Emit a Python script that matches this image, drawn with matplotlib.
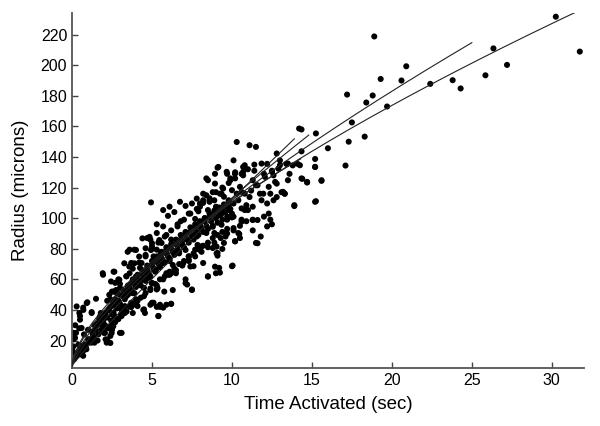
import matplotlib
matplotlib.use("Agg")
import matplotlib.pyplot as plt
import numpy as np

# ---- scatter data: (time s, radius microns) ----
time_s = [
    # sparse high region
    30.25, 31.75, 18.9, 26.35, 27.2, 25.85, 23.8, 24.3, 22.4, 20.9, 20.6, 19.3, 18.8, 18.4,
    17.2, 19.7, 17.5, 17.3, 18.3, 17.1, 16.0, 15.25, 14.35, 14.35, 15.2, 15.2, 14.4, 14.7,
    15.6, 15.25, 14.2,
    # upper-mid region (x 5-14, y > 103)
    4.94, 5.7, 6.1, 6.75, 7.1, 7.5, 7.8, 8.0, 8.2, 8.4, 8.5, 8.6, 8.8, 8.9, 9.1, 9.25, 9.5,
    9.7, 9.8, 9.9, 10.1, 10.3, 10.2, 10.1, 10.4, 10.5, 10.7, 10.8, 10.9, 11.0, 11.1, 11.2,
    11.4, 11.5, 11.6, 11.75, 11.85, 12.0, 12.2, 12.3, 12.5, 12.6, 12.7, 12.8, 12.9, 13.0,
    13.1, 13.3, 13.4, 13.6, 13.8, 13.9, 14.1,
    9.15, 8.94, 9.67, 10.19, 10.7, 10.8, 11.85, 12.5, 13.0, 13.5, 14.25, 15.2, 8.4, 8.94,
    9.9, 10.7, 11.3, 12.06, 12.6, 12.8, 13.5, 14.35, 14.7, 15.6, 8.2, 9.45, 10.0, 10.6,
    11.5, 12.4, 13.2, 8.6, 9.35, 10.3, 11.1, 11.96, 12.8, 13.3, 8.0, 8.5, 9.0, 9.8, 10.6,
    11.3, 12.2, 13.9, 15.2, 8.3, 9.25, 10.1, 10.8, 11.6, 12.3, 8.0, 8.8, 10.6, 11.3, 12.0,
    6.4, 7.3, 7.7, 5.3, 6.0, 6.8, 7.9, 9.4, 10.0,
    # lower-right scattered
    8.5, 8.94, 9.25, 10.04, 9.04, 9.04, 9.1, 9.4, 10.19, 10.46, 11.6, 11.3, 12.5, 11.8,
    # mid region
    1.94, 1.75, 1.96, 2.17, 2.06, 2.1, 2.17, 2.4, 2.5, 2.6, 2.7, 2.8, 2.4, 2.5, 2.7, 2.9,
    2.6, 2.8, 3.0, 3.1, 3.2, 3.3, 3.4, 3.4, 3.5, 3.6, 3.7, 3.6, 3.9, 3.8, 3.9, 4.0, 3.7,
    3.8, 4.1, 4.1, 4.25, 4.35, 4.5, 4.5, 4.6, 4.6, 4.7, 4.9, 4.8, 5.0, 5.0, 5.1, 5.1, 5.3,
    5.3, 5.3, 5.0, 5.1, 5.3, 5.5, 5.7, 5.4, 6.2, 5.5, 5.6, 5.7, 5.9, 6.0, 6.1, 6.2, 6.3,
    6.4, 6.5, 6.6, 6.85, 6.96, 7.1, 7.2, 7.3, 7.5, 7.6, 7.7, 7.8, 8.0, 8.1, 8.2, 8.4, 8.5,
    8.8, 8.9, 9.1, 9.2, 9.0, 9.35, 9.5, 9.6, 9.7, 10.0, 10.1, 10.2, 10.4, 10.6, 10.5, 11.3,
    11.5, 12.2, 12.4,
    1.92, 2.44, 2.65, 2.96, 3.48, 4.0, 3.27, 3.58, 3.9, 4.2, 4.4, 4.6, 4.85, 4.94, 5.0,
    5.15, 5.25, 5.46, 5.56, 5.66, 5.9, 5.9, 6.08, 6.3, 6.2, 6.5, 6.7, 6.9, 7.1, 7.3, 7.4,
    7.1, 7.5, 7.65, 7.85, 8.0, 4.85, 5.0, 5.35, 5.77, 5.9, 4.4, 4.0, 3.7, 3.4, 3.8, 2.75,
    2.33,
    # near origin
    0.04, 0.1, 0.25, 0.1, 0.46, 0.5, 0.7, 0.96, 1.23, 1.5, 0.3, 0.6, 0.8, 1.0, 1.1, 1.2,
    1.4, 0.7, 0.9, 0.5, 0.7,
    0.08, 0.19, 0.08, 0.29, 0.71, 0.92, 1.23, 0.5, 0.6, 0.04, 0.4, 2.48, 2.58, 3.0, 2.4,
    2.2, 1.96, 1.75, 3.1, 3.4, 3.6, 4.0, 4.46, 4.9, 5.4, 5.5, 5.9, 6.2, 4.56,
    0.15, 0.35, 0.55, 0.85, 1.05, 1.35, 1.65, 1.85, 2.05, 2.25, 2.45, 2.65, 2.85, 3.05,
    0.2, 0.45, 0.75, 1.0, 1.3, 1.55, 1.8, 2.3, 2.55, 2.9, 3.2, 3.45,
    # dense core along the fit lines
    1.3, 1.5, 1.6, 1.8, 1.9, 2.0, 2.2, 2.3, 2.5, 2.6, 2.8, 2.9, 3.0, 3.1, 3.2, 3.3, 3.4,
    3.5, 3.6, 3.7, 3.8, 3.9, 4.0, 4.1, 4.2, 4.3, 4.4, 4.5, 4.6, 4.7, 4.8, 4.9, 5.0, 5.1,
    5.2, 5.3, 5.4, 5.5, 5.6, 5.7, 5.8, 5.9, 6.0, 6.1, 6.2, 6.3, 6.4, 6.5, 6.6, 6.7, 6.8,
    6.9, 7.0, 7.1, 7.2, 7.3, 7.4, 7.5, 7.6, 7.7, 7.8, 7.9, 8.0, 8.1, 8.2, 8.3, 8.4, 8.5,
    8.6, 8.7, 8.8, 8.9, 9.0, 9.1, 9.2, 9.3, 9.4, 9.5, 9.6, 9.7, 9.8, 9.9, 10.0,
    1.4, 1.7, 2.1, 2.4, 2.7, 3.0, 3.2, 3.5, 3.8, 4.1, 4.4, 4.7, 5.0, 5.3, 5.6, 5.9, 6.2,
    6.5, 6.8, 7.1, 7.4, 7.7, 8.0, 8.3, 8.6, 8.9, 9.2, 9.5, 9.8,
    1.6, 2.0, 2.3, 2.7, 3.1, 3.4, 3.7, 4.0, 4.3, 4.6, 4.9, 5.2, 5.5, 5.8, 6.1, 6.4, 6.7,
    7.0, 7.3, 7.6, 7.9, 8.2, 8.5, 8.8, 9.1, 9.4, 9.7,
    2.2, 2.6, 3.0, 3.4, 3.8, 4.2, 4.6, 5.0, 5.4, 5.8, 6.2, 6.6, 7.0, 7.4, 7.8, 8.2, 8.6,
    9.0, 9.4, 9.8, 10.2, 10.6, 11.0, 11.4,
    2.5, 2.9, 3.3, 3.7, 4.1, 4.5, 4.9, 5.3, 5.7, 6.1, 6.5, 6.9, 7.3, 7.7, 8.1, 8.5, 8.9,
    9.3, 9.7, 10.1, 10.5, 10.9,
]
radius_um = [
    231.7, 208.9, 218.8, 211.0, 200.2, 193.4, 190.2, 184.8, 187.8, 199.3, 190.0, 191.0, 180.2, 175.6,
    180.8, 173.0, 162.6, 150.0, 153.3, 134.4, 145.7, 155.4, 158.0, 143.7, 138.7, 133.5, 125.7, 123.3,
    124.4, 111.1, 158.6,
    110.3, 105.3, 107.5, 110.7, 108.0, 109.6, 112.8, 109.6, 111.7, 115.0, 124.8, 110.7, 117.0, 111.7, 133.0, 116.0, 114.0,
    129.0, 111.7, 124.8, 137.8, 149.8, 130.0, 109.6, 111.7, 120.5, 133.5, 116.0, 108.5, 105.3, 147.7, 118.0,
    131.0, 146.6, 121.5, 116.0, 111.7, 129.0, 135.5, 120.5, 131.0, 111.7, 123.7, 142.3, 132.4, 137.8,
    117.0, 116.0, 135.5, 129.0, 134.5, 108.5, 135.5,
    133.5, 129.0, 130.3, 129.0, 130.3, 134.6, 135.7, 130.3, 134.6, 135.7, 134.6, 133.5, 126.0, 122.6,
    126.0, 128.0, 124.8, 127.0, 128.0, 122.6, 124.8, 126.0, 123.7, 124.8, 116.0, 119.4, 118.3, 117.2,
    121.5, 116.0, 117.2, 111.7, 116.0, 116.0, 113.8, 116.0, 113.8, 116.0, 107.5, 105.3, 107.5, 105.3, 106.4,
    107.5, 109.6, 107.9, 110.7, 100.0, 102.0, 101.0, 105.3, 98.8, 103.0, 95.5, 94.4, 97.7, 98.8, 101.0,
    104.0, 103.0, 99.5, 96.0, 101.5, 98.0, 104.5, 103.5, 100.5,
    61.8, 68.3, 64.4, 69.0, 81.4, 77.0, 75.5, 79.9, 85.0, 89.6, 83.6, 92.0, 96.0, 88.0,
    63.0, 34.0, 31.6, 28.4, 25.0, 20.8, 18.6, 23.0, 27.0, 38.0, 47.0, 44.7, 47.0, 52.0, 57.7, 60.0,
    65.0, 51.0, 54.4, 25.0, 38.0, 42.5, 49.0, 62.0, 55.5, 64.0, 70.7, 79.4, 79.4, 58.8, 51.0, 47.0, 44.7,
    38.0, 42.5, 60.0, 67.5, 70.7, 40.4, 54.4, 75.0, 64.0, 87.0, 86.0, 61.0, 81.6, 57.7, 75.0, 66.4, 90.3,
    79.4, 53.4, 44.7, 44.7, 42.0, 42.0, 41.5, 36.0, 44.0, 70.7, 83.8, 94.6, 77.3, 63.0, 72.0, 86.0, 53.0,
    77.0, 64.0, 94.6, 82.7, 70.7, 60.0, 56.6, 75.0, 53.4, 68.6, 79.4, 88.0, 94.6, 81.6, 70.7, 90.3, 62.0,
    80.5, 90.3, 77.3, 67.5, 64.0, 95.7, 83.8, 88.0, 99.0, 68.6, 93.5, 84.8, 90.3, 99.0, 87.0, 99.0,
    83.8, 94.6, 99.0,
    64.0, 58.6, 65.0, 59.7, 78.0, 79.2, 70.5, 68.4, 70.5, 74.9, 86.8, 80.3, 87.8, 79.2, 83.6,
    71.6, 66.2, 85.7, 77.0, 70.5, 89.0, 79.2, 73.8, 69.4, 64.0, 83.6, 77.0, 85.7, 79.2, 72.7, 68.4,
    57.5, 53.0, 89.0, 82.5, 79.2, 61.8, 57.5, 54.3, 52.0, 64.0, 59.7, 61.8, 57.5, 51.0, 51.0, 53.0,
    49.9,
    13.2, 25.0, 25.0, 20.8, 38.0, 36.0, 41.5, 45.0, 38.6, 47.3, 10.0, 16.5, 17.5, 20.8, 20.8, 18.6,
    18.6, 13.2, 14.3, 11.0, 10.0,
    25.0, 21.7, 16.2, 42.3, 40.0, 44.5, 38.0, 33.6, 28.2, 12.0, 17.3, 25.0, 29.3, 25.0, 18.4,
    20.6, 33.6, 35.8, 40.0, 39.0, 42.3, 43.4, 40.0, 43.4, 36.0, 43.4, 43.4, 44.0, 38.0,
    8.0, 12.0, 15.0, 16.0, 19.0, 22.0, 24.0, 27.0, 30.0, 29.0, 33.0, 36.0, 34.0, 37.0,
    30.0, 28.0, 24.0, 27.0, 26.0, 31.0, 38.0, 40.0, 44.0, 46.0, 49.0, 53.0,
    24.0, 27.0, 30.0, 33.0, 30.0, 36.0, 35.0, 40.0, 37.0, 43.0, 41.0, 46.0, 44.0, 42.0, 49.0, 47.0, 52.0,
    50.0, 55.0, 53.0, 51.0, 57.0, 55.0, 60.0, 58.0, 56.0, 63.0, 60.0, 59.0, 66.0, 64.0, 62.0, 69.0, 67.0,
    65.0, 72.0, 70.0, 68.0, 74.0, 72.0, 71.0, 77.0, 75.0, 73.0, 80.0, 78.0, 76.0, 83.0, 80.0, 78.0, 86.0,
    83.0, 81.0, 89.0, 86.0, 84.0, 91.0, 88.0, 86.0, 94.0, 91.0, 89.0, 96.0, 93.0, 91.0, 98.0, 95.0, 93.0,
    101.0, 98.0, 95.0, 102.0, 100.0, 97.0, 105.0, 102.0, 99.0, 107.0, 104.0, 101.0, 108.0, 106.0, 103.0,
    30.0, 34.0, 38.0, 42.0, 46.0, 50.0, 53.0, 56.0, 60.0, 63.0, 66.0, 69.0, 72.0, 75.0, 78.0, 81.0, 83.0,
    86.0, 89.0, 91.0, 94.0, 96.0, 98.0, 100.0, 103.0, 105.0, 107.0, 109.0, 111.0,
    20.0, 25.0, 28.0, 32.0, 36.0, 39.0, 42.0, 45.0, 48.0, 51.0, 54.0, 57.0, 60.0, 62.0, 65.0, 67.0, 70.0,
    72.0, 75.0, 77.0, 80.0, 82.0, 84.0, 87.0, 89.0, 91.0, 93.0,
    46.0, 52.0, 57.0, 62.0, 67.0, 71.0, 76.0, 80.0, 84.0, 88.0, 92.0, 96.0, 99.0, 103.0, 106.0, 110.0, 113.0,
    117.0, 120.0, 123.0, 126.0, 129.0, 132.0, 135.0,
    30.0, 34.0, 38.0, 42.0, 46.0, 49.0, 53.0, 56.0, 60.0, 63.0, 66.0, 69.0, 72.0, 75.0, 78.0, 81.0, 84.0,
    87.0, 90.0, 92.0, 95.0, 98.0,
]

# ---- fitted power-law curves r = a * t**b + r0, with their time ranges ----
fit_a = [22.6, 20.15, 12.5, 17.0, 24.0]
fit_b = [0.674, 0.73, 0.94, 0.81, 0.65]
fit_tmax = [32.0, 25.0, 13.9, 14.8, 14.3]
fit_r0 = [3.5, 3.5, 3.5, 3.5, 3.5]

xticks = [0, 5, 10, 15, 20, 25, 30]
yticks = [20, 40, 60, 80, 100, 120, 140, 160, 180, 200, 220]

plt.rcParams['font.family'] = ['Liberation Sans', 'DejaVu Sans']

fig = plt.figure(figsize=(6.0, 4.26), dpi=100)
ax = fig.add_axes([0.12, 0.136, 0.853, 0.833])

for a, b, tm, r0 in zip(fit_a, fit_b, fit_tmax, fit_r0):
    t = np.linspace(0, tm, 200)
    ax.plot(t, a * t ** b + r0, color='#222222', lw=0.8, zorder=3)

ax.scatter(time_s, radius_um, s=19, color='black', edgecolors='none', zorder=2)

ax.set_xlim(0, 32)
ax.set_ylim(2, 234)
ax.set_xticks(xticks)
ax.set_yticks(yticks)
ax.tick_params(direction='in', length=4, width=1, labelsize=11.5, color='#444444')
for s in ['top', 'right']:
    ax.spines[s].set_visible(False)
for s in ['left', 'bottom']:
    ax.spines[s].set_color('#555555')
    ax.spines[s].set_linewidth(1.3)
ax.set_xlabel('Time Activated (sec)', fontsize=13.5, labelpad=6)
ax.set_ylabel('Radius (microns)', fontsize=13.5, labelpad=8)

fig.savefig('out.png', dpi=100)
